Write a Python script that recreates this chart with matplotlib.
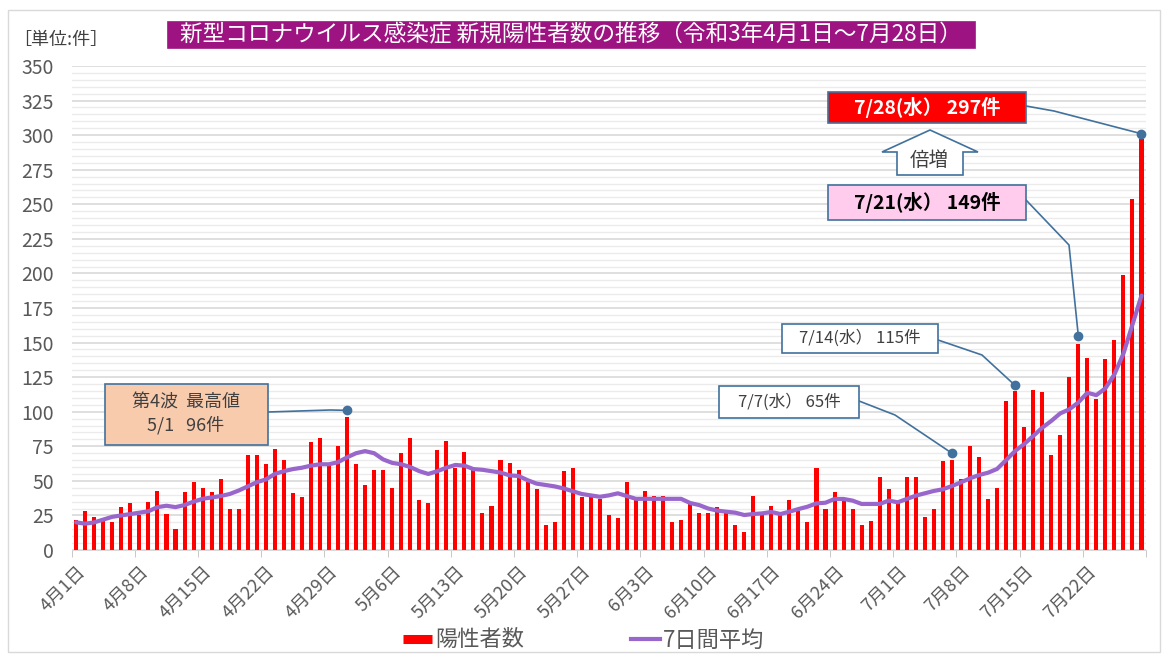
import numpy as np
import pandas as pd
import matplotlib.pyplot as plt
from matplotlib.patches import Rectangle, Polygon
from matplotlib.lines import Line2D

plt.rcParams['font.family'] = ['Noto Sans CJK JP', 'DejaVu Sans']

# 日付（令和3年4月1日～7月28日）
dates = pd.date_range('2021-04-01', '2021-07-28')

# 新規陽性者数
cases = [22, 28, 24, 21, 20, 31, 34, 25, 35, 43,
         26, 15, 42, 49, 45, 42, 51, 30, 30, 69,
         69, 62, 73, 65, 41, 38, 78, 81, 61, 75,
         96, 62, 47, 58, 58, 45, 70, 81, 36, 34,
         72, 79, 59, 71, 58, 27, 32, 65, 63, 58,
         49, 44, 18, 20, 57, 59, 38, 39, 37, 25,
         23, 49, 38, 43, 39, 39, 20, 22, 33, 27,
         27, 31, 27, 18, 13, 39, 27, 32, 26, 36,
         28, 20, 59, 30, 42, 36, 30, 18, 21, 53,
         44, 34, 53, 53, 24, 30, 64, 65, 51, 75,
         67, 37, 45, 108, 115, 89, 116, 114, 69, 83,
         125, 149, 139, 109, 138, 152, 199, 254, 297]

# 7日間平均
avg7 = [20, 19, 20, 22, 24, 25, 26, 27, 28, 31,
        32, 31, 32.5, 35, 37, 38, 39, 40.5, 43, 46,
        49, 51, 55, 57, 58.5, 59.5, 61, 62, 62, 63.5,
        67, 70, 71.5, 70, 65.5, 63, 62, 60, 57, 55,
        57, 59.5, 61.5, 61, 58.5, 58, 57, 56, 54, 53.5,
        50.5, 48, 47, 46, 44.5, 42.5, 40.5, 39.5, 38.5, 39.5,
        41, 39, 37, 37, 37, 37, 37, 37, 34, 32.5,
        30, 28.5, 27.7, 27, 25.3, 26, 26.5, 27.5, 26, 27.7,
        29.6, 31.3, 33.7, 34.2, 36.9, 36.9, 35.7, 33.3, 33.3, 33.3,
        35.7, 34.5, 36.9, 39.3, 41, 42.7, 43.9, 46.3, 48.9, 51.8,
        54.2, 55.9, 58.6, 65, 71.6, 76.6, 82.4, 88.4, 93.3, 98.8,
        101.7, 106.7, 113.7, 112, 116.9, 127, 142, 163, 184]

tick_idx = list(range(0, len(dates), 7))
tick_labels = [f'{d.month}月{d.day}日' for d in dates[tick_idx]]

RED = '#FF0000'
PURPLE = '#9966CC'
BLUE = '#41719C'
GRAY = '#595959'

W, H = 1166, 657
fig = plt.figure(figsize=(W / 100, H / 100), dpi=100)
ax = fig.add_axes([71.7 / W, 107 / H, (1146 - 71.7) / W, 484 / H])

x = np.arange(1, len(dates) + 1)
ax.bar(x, cases, width=0.45, color=RED, zorder=2)
ax.plot(x, avg7, color=PURPLE, lw=3, zorder=3, solid_capstyle='round')

ax.set_xlim(0.5, len(dates) + 0.5)
ax.set_ylim(0, 350)
ax.set_yticks(np.arange(0, 351, 25))
ax.set_yticks(np.arange(0, 351, 5), minor=True)
ax.grid(which='major', axis='y', color='#D9D9D9', lw=1.2)
ax.grid(which='minor', axis='y', color='#EBEBEB', lw=1)
ax.set_axisbelow(True)
ax.tick_params(axis='y', which='both', length=0, labelsize=14, labelcolor=GRAY, pad=13)

ax.set_xticks(x[tick_idx])
ax.set_xticklabels(tick_labels, rotation=45, ha='right', rotation_mode='anchor')
ax.set_xticks(np.arange(0.5, len(dates) + 1, 7), minor=True)
ax.tick_params(axis='x', which='major', length=0, labelsize=13, labelcolor=GRAY, pad=9)
ax.tick_params(axis='x', which='minor', length=5, color='#BFBFBF')

for s in ['top', 'right', 'left']:
    ax.spines[s].set_visible(False)
ax.spines['bottom'].set_color('#D9D9D9')


def fp(px, py):
    # 画像のピクセル位置 -> figure座標
    return px / W, 1 - py / H


def box(x0, y0, x1, y1, fc, ec=BLUE):
    r = Rectangle(fp(x0, y1), (x1 - x0) / W, (y1 - y0) / H, transform=fig.transFigure,
                  fc=fc, ec=ec, lw=1.2, zorder=5)
    fig.add_artist(r)


def leader(points, day, value):
    # 吹き出しの線と、データ点の丸
    dot = fig.transFigure.inverted().transform(ax.transData.transform((day, value)))
    xs = [fp(*p)[0] for p in points] + [dot[0]]
    ys = [fp(*p)[1] for p in points] + [dot[1]]
    fig.add_artist(Line2D(xs, ys, color=BLUE, lw=1.2, transform=fig.transFigure, zorder=4))
    fig.add_artist(Line2D([dot[0]], [dot[1]], marker='o', ms=6, color=BLUE,
                          transform=fig.transFigure, zorder=6))


# 外枠
fig.add_artist(Rectangle(fp(8, 652), 1152 / W, 642 / H, transform=fig.transFigure,
                         fc='none', ec='#D9D9D9', lw=1))

# タイトル
box(168, 22, 975, 48, '#9E1382', ec='#9E1382')
fig.text(*fp(571, 35), '新型コロナウイルス感染症 新規陽性者数の推移（令和3年4月1日～7月28日）',
         ha='center', va='center', color='white', fontsize=16.3, zorder=6)
fig.text(*fp(13, 40), '［単位:件］', ha='left', va='center', color='#404040', fontsize=13)

# 第4波 最高値
box(105, 384, 268, 445, '#F8CBAD')
fig.text(*fp(186, 414), '第4波  最高値\n5/1   96件', ha='center', va='center',
         color='#404040', fontsize=13, linespacing=1.3, zorder=6)
leader([(268, 412), (330, 410)], 31, cases[30] + 5)

# 7/7
box(719, 386, 859, 418, 'white')
fig.text(*fp(789, 402), '7/7(水） 65件', ha='center', va='center', color='#404040',
         fontsize=12, zorder=6)
leader([(859, 401), (895, 415)], 98, cases[97] + 5)

# 7/14
box(782, 324, 938, 353, 'white')
fig.text(*fp(860, 338), '7/14(水） 115件', ha='center', va='center', color='#404040',
         fontsize=12, zorder=6)
leader([(938, 340), (982, 355)], 105, cases[104] + 4)

# 7/21
box(828, 185, 1026, 220, '#FFCCEE')
fig.text(*fp(927, 202), '7/21(水） 149件', ha='center', va='center', color='black',
         fontsize=14, fontweight='bold', zorder=6)
leader([(1026, 200), (1069, 245)], 112, cases[111] + 6)

# 7/28
box(828, 92, 1026, 123, RED)
fig.text(*fp(927, 107), '7/28(水） 297件', ha='center', va='center', color='white',
         fontsize=14, fontweight='bold', zorder=6)
leader([(1026, 106), (1054, 111)], 119, cases[118] + 4)

# 倍増の矢印
arrow_px = [(930, 130), (978, 152), (963, 152), (963, 175), (897, 175), (897, 152), (882, 152)]
fig.add_artist(Polygon([fp(*p) for p in arrow_px], closed=True, transform=fig.transFigure,
                       fc='white', ec=BLUE, lw=1.2, zorder=5))
fig.text(*fp(929, 160), '倍増', ha='center', va='center', color='#404040', fontsize=14, zorder=6)

# 凡例
handles = [Line2D([], [], color=RED, lw=6.5, solid_capstyle='butt'),
           Line2D([], [], color=PURPLE, lw=3)]
fig.legend(handles, ['陽性者数', '7日間平均'], loc='center', bbox_to_anchor=fp(584, 640),
           ncol=2, frameon=False, fontsize=16, columnspacing=4.8, handlelength=1.3,
           handletextpad=0.15, labelcolor=GRAY)

fig.savefig('out.png', dpi=100)
